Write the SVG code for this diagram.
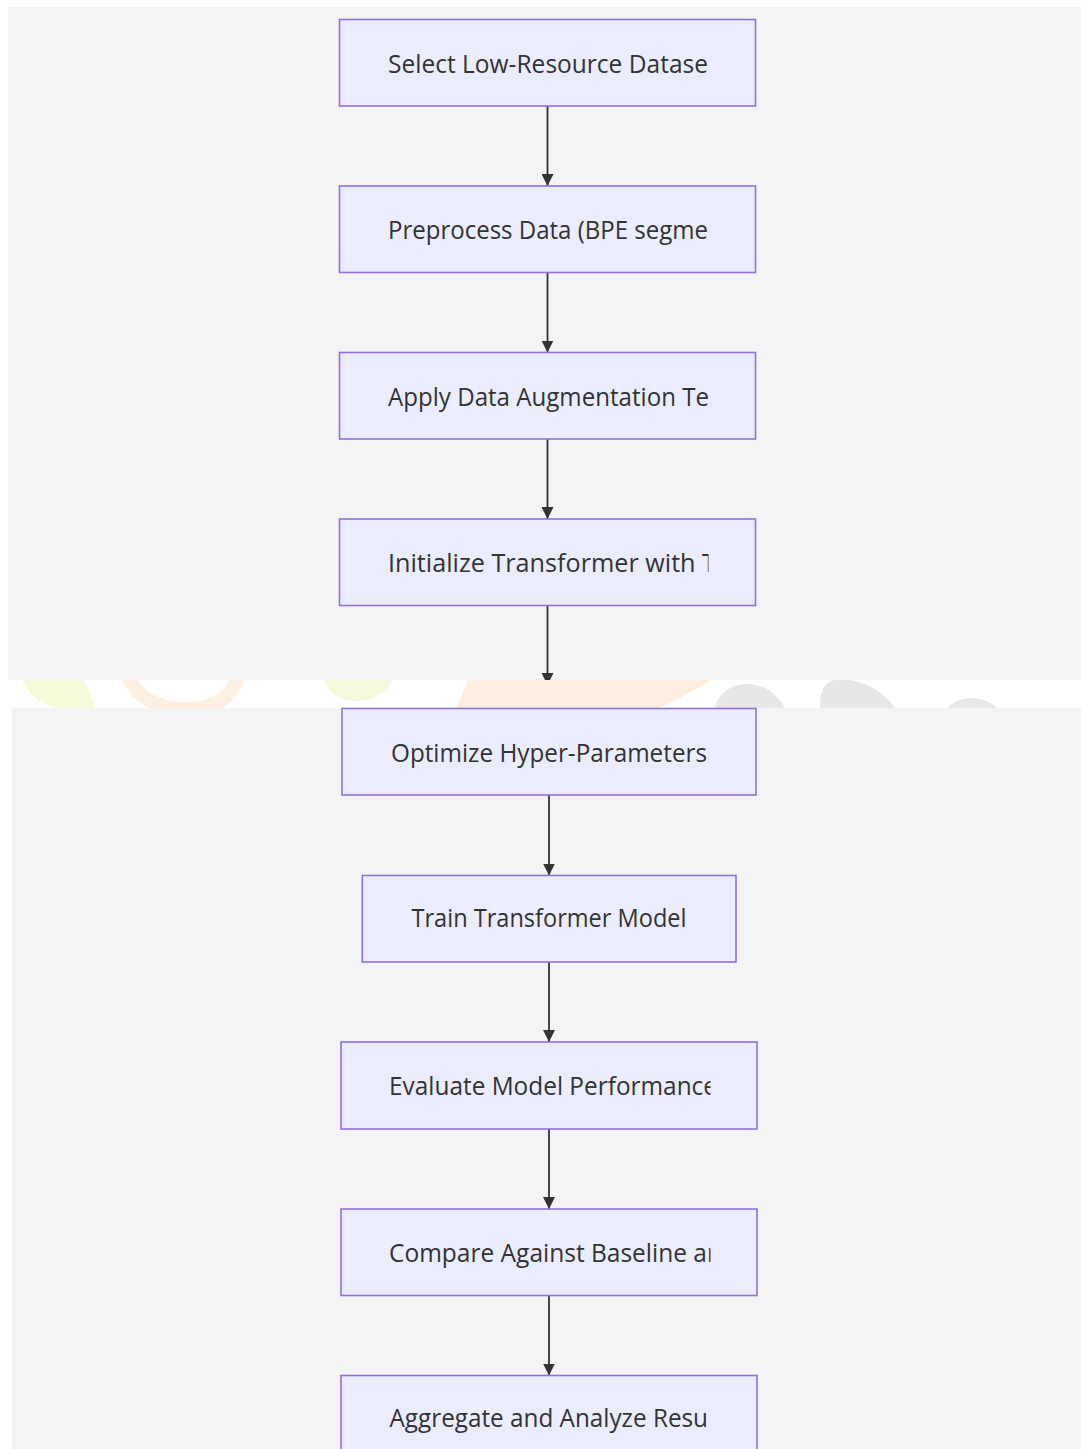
<svg xmlns="http://www.w3.org/2000/svg" width="1081" height="1449" viewBox="0 0 1081 1449">
  <style>
    .panel { fill: #f4f4f6; }
    .node rect { fill: #ececff; stroke: #9370db; stroke-width: 1.6; }
    .node text { font-family: "Open Sans", "DejaVu Sans", sans-serif; font-size: 25px; fill: #333333; }
    .edge { stroke: #333333; stroke-width: 1.8; fill: none; }
  </style>
  <defs>
    <marker id="arrow" markerWidth="12" markerHeight="12" viewBox="0 0 12 12" refX="12" refY="6" orient="auto" markerUnits="userSpaceOnUse">
      <path d="M0,0 L12,6 L0,12 Z" fill="#333333"/>
    </marker>
    <clipPath id="clipTop"><rect x="0" y="0" width="708.5" height="680"/></clipPath>
    <clipPath id="clipBottom"><rect x="0" y="708" width="710.5" height="741"/></clipPath>
    <clipPath id="clipStrip"><rect x="0" y="680" width="1081" height="28"/></clipPath>
  </defs>

  <!-- page -->
  <rect x="0" y="0" width="1081" height="1449" fill="#ffffff"/>

  <!-- faint decorative band between the two panels -->
  <g id="band" clip-path="url(#clipStrip)">
    <path d="M21,676 C30,700 45,712 97,712 C92,695 85,682 80,676 Z" fill="#f6fadb"/>
    <path d="M128,676 C140,705 170,712 200,708 C225,704 234,690 238,676" fill="none" stroke="#fdf0e2" stroke-width="14"/>
    <path d="M324,676 C326,692 340,702 358,701 C378,700 390,690 393,676 Z" fill="#f5fadc"/>
    <path d="M469,676 L717,676 C695,690 675,702 648,712 L455,712 Z" fill="#fdeee1"/>
    <path d="M714,712 C716,696 728,684 748,684 C770,685 782,700 786,712 Z" fill="#e7e7e7"/>
    <path d="M821,712 C818,696 822,680 840,679 C870,680 890,698 897,712 Z" fill="#e7e7e7"/>
    <path d="M945,712 C950,703 960,698 972,698 C988,699 996,706 1000,712 Z" fill="#e8e8e8"/>
  </g>

  <!-- panels -->
  <rect class="panel" x="8" y="7" width="1073" height="673"/>
  <rect class="panel" x="12" y="708" width="1069" height="741"/>

  <!-- connectors -->
  <g id="edges">
    <line class="edge" x1="547.5" y1="106" x2="547.5" y2="186" marker-end="url(#arrow)"/>
    <line class="edge" x1="547.5" y1="272.5" x2="547.5" y2="352.5" marker-end="url(#arrow)"/>
    <line class="edge" x1="547.5" y1="439" x2="547.5" y2="519" marker-end="url(#arrow)"/>
    <g clip-path="url(#clipTop)">
      <line class="edge" x1="547.5" y1="605.5" x2="547.5" y2="685" marker-end="url(#arrow)"/>
    </g>
    <line class="edge" x1="549" y1="795" x2="549" y2="875.5" marker-end="url(#arrow)"/>
    <line class="edge" x1="549" y1="962" x2="549" y2="1042" marker-end="url(#arrow)"/>
    <line class="edge" x1="549" y1="1129" x2="549" y2="1209" marker-end="url(#arrow)"/>
    <line class="edge" x1="549" y1="1295.5" x2="549" y2="1375.5" marker-end="url(#arrow)"/>
  </g>

  <!-- nodes -->
  <g id="select" class="node">
    <rect x="339.5" y="19.5" width="416" height="86.5"/>
    <text x="388" y="72.5" textLength="320" lengthAdjust="spacingAndGlyphs" clip-path="url(#clipTop)">Select Low-Resource Datase</text>
  </g>
  <g id="preprocess" class="node">
    <rect x="339.5" y="186" width="416" height="86.5"/>
    <text x="388" y="239" textLength="320" lengthAdjust="spacingAndGlyphs" clip-path="url(#clipTop)">Preprocess Data (BPE segme</text>
  </g>
  <g id="augment" class="node">
    <rect x="339.5" y="352.5" width="416" height="86.5"/>
    <text x="388" y="405.5" textLength="321" lengthAdjust="spacingAndGlyphs" clip-path="url(#clipTop)">Apply Data Augmentation Te</text>
  </g>
  <g id="init" class="node">
    <rect x="339.5" y="519" width="416" height="86.5"/>
    <text x="388" y="572" textLength="328" lengthAdjust="spacingAndGlyphs" clip-path="url(#clipTop)">Initialize Transformer with T</text>
  </g>
  <g id="optimize" class="node">
    <rect x="342" y="708.5" width="414" height="86.5"/>
    <text x="391" y="761.5" textLength="316" lengthAdjust="spacingAndGlyphs">Optimize Hyper-Parameters</text>
  </g>
  <g id="train" class="node">
    <rect x="362.3" y="875.5" width="373.7" height="86.5"/>
    <text x="411.5" y="927" textLength="275" lengthAdjust="spacingAndGlyphs">Train Transformer Model</text>
  </g>
  <g id="evaluate" class="node">
    <rect x="341" y="1042" width="416" height="87"/>
    <text x="389" y="1094.5" textLength="328" lengthAdjust="spacingAndGlyphs" clip-path="url(#clipBottom)">Evaluate Model Performance</text>
  </g>
  <g id="compare" class="node">
    <rect x="341" y="1209" width="416" height="86.5"/>
    <text x="389" y="1261.5" textLength="333" lengthAdjust="spacingAndGlyphs" clip-path="url(#clipBottom)">Compare Against Baseline an</text>
  </g>
  <g id="aggregate" class="node">
    <rect x="341" y="1375.5" width="416" height="90"/>
    <text x="389.5" y="1427" textLength="318.5" lengthAdjust="spacingAndGlyphs" clip-path="url(#clipBottom)">Aggregate and Analyze Resu</text>
  </g>
</svg>
